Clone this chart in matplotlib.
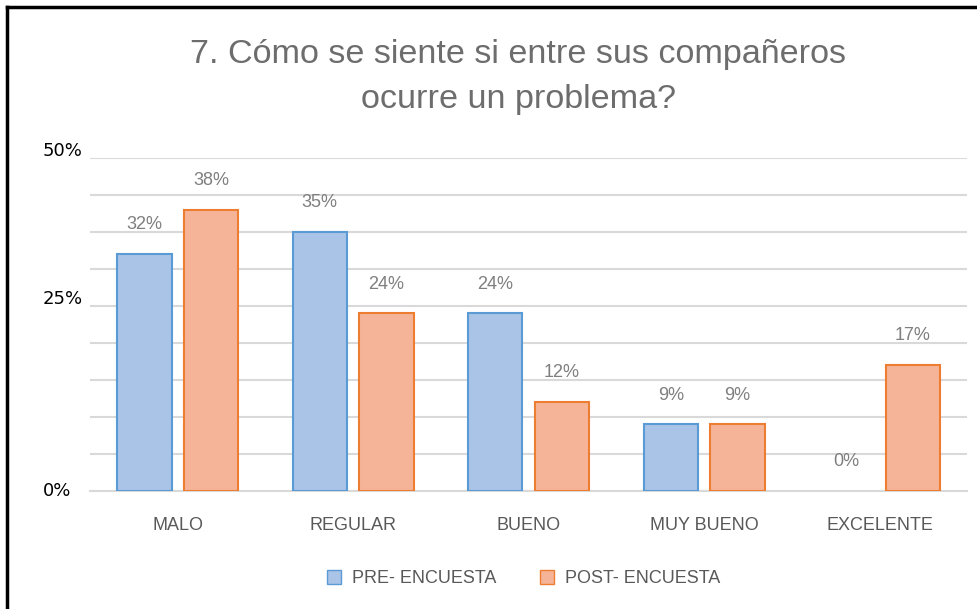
import numpy as np
import matplotlib
matplotlib.use("Agg")
from matplotlib import pyplot as plt
from matplotlib.lines import Line2D

plt.rcParams['font.family'] = ['Liberation Sans Narrow', 'Liberation Sans', 'DejaVu Sans']

categories = ['MALO', 'REGULAR', 'BUENO', 'MUY BUENO', 'EXCELENTE']
pre = [32, 35, 24, 9, 0]
post = [38, 24, 12, 9, 17]
series_names = ['PRE- ENCUESTA', 'POST- ENCUESTA']
ytick_labels = ['0%', '25%', '50%']
ytick_pos = [0, 26, 46]

fig = plt.figure(figsize=(9.78, 6.09), dpi=100)
ax = fig.add_axes([0.092, 0.1938, 0.897, 0.5468])

x = np.arange(len(categories))
w = 0.31
off = 0.19
pre_face, pre_edge = '#a9c4e6', '#5b9bd5'
post_face, post_edge = '#f5b498', '#ed7d31'

bars_pre = ax.bar(x - off, pre, w, color=pre_face, edgecolor=pre_edge, linewidth=1.5, zorder=3)
bars_post = ax.bar(x + off, post, w, color=post_face, edgecolor=post_edge, linewidth=1.5, zorder=3)
# zero bars: no outline
for b, v in list(zip(bars_pre, pre)) + list(zip(bars_post, post)):
    if v == 0:
        b.set_linewidth(0)

for i in range(len(categories)):
    ax.annotate(f'{pre[i]}%', (x[i] - off, pre[i]), xytext=(0, 15), textcoords='offset points',
                ha='center', va='bottom', fontsize=13, color='#7f7f7f')
    ax.annotate(f'{post[i]}%', (x[i] + off, post[i]), xytext=(0, 15), textcoords='offset points',
                ha='center', va='bottom', fontsize=13, color='#7f7f7f')

ax.set_xlim(-0.5, len(categories) - 0.5)
ax.set_ylim(0, 45)
ax.set_yticks(np.arange(0, 50, 5))
ax.set_yticklabels([])
ax.tick_params(axis='y', length=0)
ax.grid(axis='y', color='#d9d9d9', linewidth=1.5, zorder=0)
ax.set_xticks(x)
ax.set_xticklabels(categories, fontsize=13, color='#595959')
ax.tick_params(axis='x', length=0, pad=19)
for s in ['top', 'right', 'left']:
    ax.spines[s].set_visible(False)
ax.spines['bottom'].set_color('#d9d9d9')
ax.spines['bottom'].set_linewidth(1.5)

# y labels (black, left aligned)
trans = matplotlib.transforms.blended_transform_factory(fig.transFigure, ax.transData)
for lab, p in zip(ytick_labels, ytick_pos):
    ax.text(43 / 978, p, lab, transform=trans, ha='left', va='center', fontsize=13,
            color='black', family=['DejaVu Sans'])

fig.text(0.530, 1 - 77 / 609, '7. Cómo se siente si entre sus compañeros\nocurre un problema?',
         ha='center', va='center', fontsize=24.6, color='#6d6d6d', linespacing=1.62)

handles = [Line2D([], [], marker='s', linestyle='none', markersize=10,
                  markerfacecolor=pre_face, markeredgecolor=pre_edge),
           Line2D([], [], marker='s', linestyle='none', markersize=10,
                  markerfacecolor=post_face, markeredgecolor=post_edge)]
fig.legend(handles, series_names, loc='center', bbox_to_anchor=(0.53, 0.05), ncol=2,
           frameon=False, fontsize=13, labelcolor='#595959', handletextpad=0.0,
           columnspacing=1.8)

# outer border (left and top)
fig.add_artist(Line2D([7 / 978, 7 / 978], [0, 1 - 7 / 609], transform=fig.transFigure,
                      color='black', linewidth=2.5))
fig.add_artist(Line2D([7 / 978, 1], [1 - 7 / 609, 1 - 7 / 609], transform=fig.transFigure,
                      color='black', linewidth=2.5))

fig.savefig('out.png', dpi=100)
